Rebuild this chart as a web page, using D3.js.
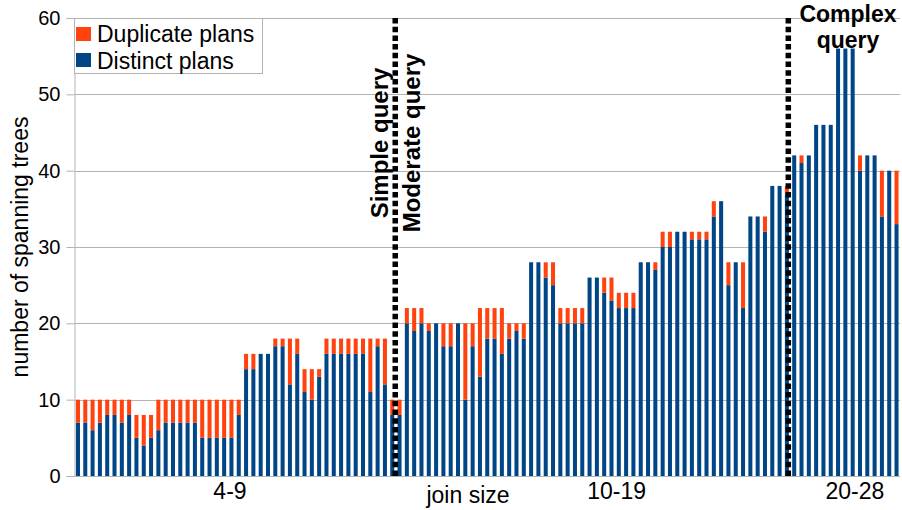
<!DOCTYPE html>
<html>
<head>
<meta charset="utf-8">
<script src="https://cdn.jsdelivr.net/npm/d3@7"></script>
<style>
  html, body { margin: 0; padding: 0; background: #fff; }
  svg { display: block; font-family: "Liberation Sans", Arial, sans-serif; }
</style>
</head>
<body>
<svg id="chart" width="902" height="510"></svg>
<script>
// ---- data ----
const queries = d3.range(1, 114).map(i => "Q" + i);
const distinctPlans = [7,7,6,7,8,8,7,8,5,4, 5,6,7,7,7,7,7,5,5,5, 5,5,8,14,14,16,16,17,17,12,
  16,11,10,13,16,16,16,16,16,16, 11,17,12,8,8,20,19,20,19,20, 17,17,20,10,17,13,18,18,16,18,
  19,18,28,28,26,25,20,20,20,20, 26,26,24,23,22,22,22,28,28,27, 30,30,32,32,31,31,31,34,36,25,
  28,22,34,34,32,38,38,37,42,41, 42,46,46,46,56,56,56,40,42,42, 34,40,33];
const duplicatePlans = [3,3,4,3,2,2,3,2,3,4, 3,4,3,3,3,3,3,5,5,5, 5,5,2,2,2,0,0,1,1,6,
  2,3,4,1,2,2,2,2,2,2, 7,1,6,2,2,2,3,2,1,0, 3,3,0,10,3,9,4,4,6,2,
  1,2,0,0,2,3,2,2,2,2, 0,0,2,3,2,2,2,0,0,1, 2,2,0,0,1,1,1,2,0,3,
  0,6,0,0,2,0,0,1,0,1, 0,0,0,0,0,0,0,2,0,0, 6,0,7];
const yTicks = [0, 10, 20, 30, 40, 50, 60];
const groupLabels = ["4-9", "10-19", "20-28"];
const groupCenters = [20.8, 73.7, 106.3];   // in bar units
const seriesNames = ["Duplicate plans", "Distinct plans"];
const colors = { distinct: "#004586", duplicate: "#ff420e" };

// ---- layout ----
const svg = d3.select("#chart");
const mLeft = 74.5, mRight = 900, mTop = 18, mBottom = 476;
const grid = "#b3b3b3";

const rows = queries.map((q, i) => ({ q, distinct: distinctPlans[i], duplicate: duplicatePlans[i] }));
const x = d3.scaleBand().domain(queries).range([mLeft, mRight]).paddingInner(0.45).paddingOuter(0.2);
const y = d3.scaleLinear().domain([0, 60]).range([mBottom, mTop]);
const step = x.step();

// gridlines
svg.append("g").selectAll("line").data(yTicks).join("line")
  .attr("x1", mLeft).attr("x2", mRight)
  .attr("y1", d => Math.round(y(d)) + 0.5).attr("y2", d => Math.round(y(d)) + 0.5)
  .attr("stroke", grid).attr("stroke-width", 1);

// y axis
const yAxis = svg.append("g").attr("transform", `translate(${mLeft},0)`)
  .call(d3.axisLeft(y).tickValues(yTicks).tickSize(8).tickPadding(6));
yAxis.select(".domain").attr("stroke", grid);
yAxis.selectAll(".tick line").attr("stroke", grid);
yAxis.selectAll(".tick text").attr("font-size", 20).attr("fill", "#000")
  .attr("font-family", "Liberation Sans, Arial, sans-serif");

// bars
const stack = d3.stack().keys(["distinct", "duplicate"]);
const layers = stack(rows);
svg.append("g").selectAll("g").data(layers).join("g")
  .attr("fill", d => colors[d.key])
  .selectAll("rect").data(d => d).join("rect")
  .attr("x", d => x(d.data.q))
  .attr("width", x.bandwidth())
  .attr("y", d => y(d[1]))
  .attr("height", d => y(d[0]) - y(d[1]));

// bottom axis line
svg.append("line").attr("x1", mLeft).attr("x2", mRight)
  .attr("y1", mBottom + 0.5).attr("y2", mBottom + 0.5).attr("stroke", grid);

// group labels
const x0 = x(queries[0]) + x.bandwidth() / 2;
svg.append("g").selectAll("text").data(groupLabels).join("text")
  .attr("x", (d, i) => x0 + groupCenters[i] * step)
  .attr("y", 499).attr("text-anchor", "middle").attr("font-size", 23).text(d => d);

svg.append("text").attr("x", 468).attr("y", 503).attr("text-anchor", "middle")
  .attr("font-size", 23).text("join size");

svg.append("text").attr("transform", "translate(28,247) rotate(-90)")
  .attr("text-anchor", "middle").attr("font-size", 23).text("number of spanning trees");

// divider lines
const simpleX = x(queries[44]) - 2.3;
const complexX = x(queries[97]) + x.bandwidth() - 0.6;
[simpleX, complexX].forEach(px => {
  svg.append("line").attr("x1", px).attr("x2", px).attr("y1", mTop).attr("y2", mBottom)
    .attr("stroke", "#000").attr("stroke-width", 5.5).attr("stroke-dasharray", "5.5,3.2");
});

// annotations
svg.append("text").attr("transform", `translate(${simpleX - 7},143) rotate(-90)`)
  .attr("text-anchor", "middle").attr("font-size", 24).attr("font-weight", "bold").text("Simple query");
svg.append("text").attr("transform", `translate(${simpleX + 25},143) rotate(-90)`)
  .attr("text-anchor", "middle").attr("font-size", 24).attr("font-weight", "bold").text("Moderate query");
svg.append("text").attr("x", 848).attr("y", 21.5).attr("text-anchor", "middle")
  .attr("font-size", 23).attr("font-weight", "bold").text("Complex");
svg.append("text").attr("x", 848).attr("y", 47.5).attr("text-anchor", "middle")
  .attr("font-size", 23).attr("font-weight", "bold").text("query");

// legend
const lg = svg.append("g");
lg.append("rect").attr("x", 74.5).attr("y", 18.5).attr("width", 188).attr("height", 55)
  .attr("fill", "#fff").attr("stroke", grid);
const legendKeys = ["duplicate", "distinct"];
seriesNames.forEach((name, i) => {
  lg.append("rect").attr("x", 76).attr("y", 27 + i * 26).attr("width", 15).attr("height", 14)
    .attr("fill", colors[legendKeys[i]]);
  lg.append("text").attr("x", 97).attr("y", 42 + i * 26.5).attr("font-size", 23).text(name);
});
</script>
</body>
</html>
